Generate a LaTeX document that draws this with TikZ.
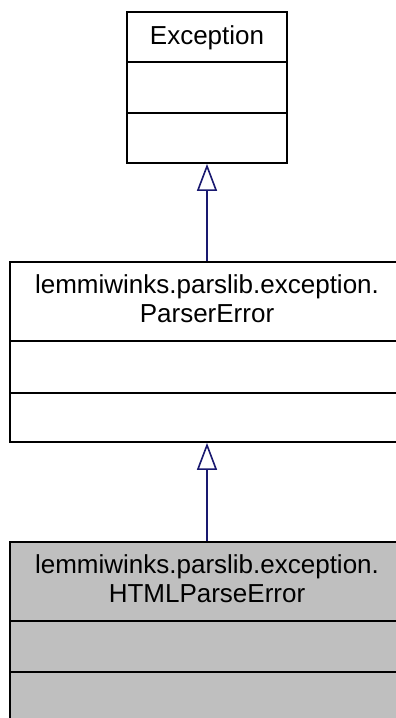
\documentclass[tikz,border=0pt]{standalone}
\usepackage{fontspec}
\setmainfont{Liberation Sans}
\usetikzlibrary{arrows.meta}
\definecolor{edgeblue}{HTML}{191970}
\definecolor{hlgrey}{HTML}{BFBFBF}
\tikzset{
  classbox/.style={draw=black, line width=1.8pt, inner sep=0pt, fill=white},
  classtext/.style={inner sep=0pt, align=center, anchor=base, font=\fontsize{26}{29}\selectfont},
  divider/.style={draw=black, line width=1.8pt},
  inherit/.style={draw=edgeblue, line width=1.6pt, -{Triangle[open, length=27pt, width=20pt, line width=1.6pt]}}
}
\begin{document}
\begin{tikzpicture}[x=1pt, y=-1pt]
\useasboundingbox (0,0) rectangle (396,718);
\clip (0,0) rectangle (396,718);
\fill[white] (0,0) rectangle (396,718);
% Exception
\node[classbox, minimum width=160pt, minimum height=151pt] (exc) at (207,87.5) {};
\node[classtext] (exctxt) at (207,44) {Exception};
\draw[divider] (127,62) -- (287,62);
\draw[divider] (127,113) -- (287,113);
% ParserError
\node[classbox, minimum width=393pt, minimum height=180pt] (perr) at (206.5,352) {};
\node[classtext] (perrtxt) at (207,322) {lemmiwinks.parslib.exception.\\ParserError};
\draw[divider] (10,341) -- (403,341);
\draw[divider] (10,393) -- (403,393);
% HTMLParseError
\node[classbox, fill=hlgrey, minimum width=393pt, minimum height=180pt] (herr) at (206.5,632) {};
\node[classtext] (herrtxt) at (207,602) {lemmiwinks.parslib.exception.\\HTMLParseError};
\draw[divider] (10,621) -- (403,621);
\draw[divider] (10,672) -- (403,672);
% edges
\draw[inherit] (perr.north -| exc.south) -- (exc.south);
\draw[inherit] (herr.north -| exc.south) -- (perr.south -| exc.south);
\end{tikzpicture}
\end{document}
